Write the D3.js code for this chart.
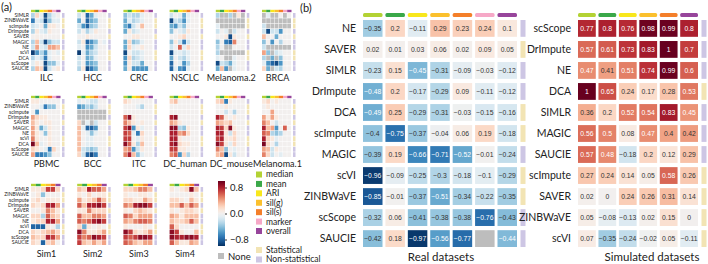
<!DOCTYPE html>
<html>
<head>
<meta charset="utf-8">
<script src="https://cdn.jsdelivr.net/npm/d3@7"></script>
<style>
  html, body { margin: 0; padding: 0; background: #fff; }
  svg { display: block; font-family: Lato, "Liberation Sans", sans-serif; }
</style>
</head>
<body>
<div id="chart"></div>
<script>
// ---- Daten ----
const methods = ["SIMLR", "ZINBWaVE", "scImpute", "DrImpute", "SAVER", "MAGIC", "NE", "scVI", "DCA", "scScope", "SAUCIE"];
const nonStat = ["SIMLR", "DrImpute", "MAGIC", "NE", "scScope", "SAUCIE"];
const realMetrics = ["median", "mean", "ARI", "sil(g)", "sil(s)", "marker", "overall"];
const simMetrics = ["median", "mean", "ARI", "sil(g)", "sil(s)", "overall"];
const metricColors = ["#b3d234", "#3aa849", "#f8e71c", "#fbc02d", "#f47f2a", "#f6a8c7", "#97459b"];
const typeLabels = ["Statistical", "Non-statistical"];
const typeColors = ["#f2e4b4", "#cdc6e4"];

// Panel (a): Zeilen = methods, Spalten = Metriken (null = None)
const ILC = [
  [-0.3, 0.2, -0.1, -0.9, -0.3, -0.1, 0], [-0.7, -0.1, -0.2, -0.9, -0.4, -0.1, -0.1],
  [-0.2, -0.1, 0, -0.5, 0.1, 0.1, 0], [-0.3, 0.1, -0.1, -0.2, 0.1, 0, 0],
  [0, 0.05, 0, 0, 0, 0, 0], [-0.3, 0.3, -0.2, -0.9, -0.4, -0.2, -0.2],
  [-0.2, 0.4, -0.1, -0.2, 0.4, 0.4, 0.3], [-0.95, -0.6, -0.3, -0.6, -0.1, 0, -0.1],
  [-0.3, -0.1, -0.2, -0.7, -0.1, 0, 0], [-0.1, 0.1, 0, -0.9, -0.4, -0.4, -0.1],
  [-0.3, 0.3, 0.2, -0.9, -0.2, 0, 0.1]];
const HCC = [
  [-0.2, 0, -0.8, -0.5, -0.1, 0, 0], [-0.5, 0, -0.8, -0.5, -0.4, 0, 0],
  [-0.2, -0.6, -0.8, -0.4, -0.3, 0, 0], [-0.2, 0, -0.3, -0.1, 0.1, 0, 0],
  [0, 0, 0.1, 0, 0, 0, 0], [-0.2, 0.1, -0.8, -0.6, -0.4, 0, -0.1],
  [-0.1, 0, -0.6, -0.5, -0.2, 0, 0], [-0.95, -0.1, -0.5, -0.3, -0.2, 0, 0],
  [-0.2, 0, -0.5, -0.4, -0.1, 0, 0], [-0.2, 0, -0.6, -0.5, -0.4, 0, 0],
  [-0.3, 0.1, -0.9, -0.7, -0.5, 0, 0]];
const CRC = [
  [-0.4, -0.2, -0.3, -0.3, -0.1, 0, 0], [-0.5, -0.1, -0.3, -0.2, -0.1, 0, 0],
  [-0.5, -0.7, -0.2, 0, 0.3, 0, 0], [-0.5, 0.1, -0.2, -0.1, 0, 0, 0],
  [0, 0, 0.1, 0.1, 0, 0, 0], [-0.5, 0.2, -0.4, -0.3, -0.1, 0, 0],
  [-0.5, 0.2, -0.1, 0, 0.1, 0, 0], [-0.9, 0, -0.2, -0.2, -0.1, 0, 0],
  [-0.6, 0.2, -0.3, -0.2, -0.1, 0, 0], [-0.6, 0.1, -0.2, -0.2, -0.5, 0, 0],
  [-0.5, 0.1, -0.6, -0.6, -0.6, -0.6, 0]];
const NSCLC = [
  [-0.2, 0, -0.1, -0.5, -0.1, 0, 0], [-0.9, -0.2, -0.3, -0.6, -0.1, 0, 0],
  [-0.5, -0.6, -0.2, -0.4, 0, 0, 0], [-0.4, 0, -0.1, -0.2, 0.1, 0, 0],
  [0, 0, 0.1, 0.2, 0, 0, 0], [-0.4, 0.1, -0.2, -0.7, -0.2, 0, 0],
  [-0.2, 0, 0.6, -0.1, 0.2, 0, 0], [-0.9, -0.1, -0.1, -0.2, -0.1, 0, 0],
  [-0.5, 0, -0.2, -0.3, -0.1, 0, 0], [-0.8, 0, -0.1, -0.6, -0.3, 0, 0],
  [-0.8, -0.1, -0.6, -0.7, -0.1, 0, 0]];
const Melanoma2 = [
  [-0.3, null, null, -0.3, null, 0.1, null], [null, null, null, null, null, null, null],
  [-0.1, null, null, null, null, null, null], [-0.2, 0, -0.1, null, -0.2, 0, 0],
  [0, 0, 0.1, -0.9, 0.1, 0, 0], [-0.4, 0, -0.7, -0.8, 0.5, 0, 0],
  [-0.3, 0, null, null, 0, 0, 0], [-0.3, null, null, null, null, null, null],
  [-0.1, 0, null, null, -0.1, 0, 0], [-0.9, -0.2, -0.3, -0.5, -0.1, 0, 0],
  [-0.5, 0.3, -0.6, null, -0.1, 0, 0]];
const BRCA = [
  [null, -0.1, null, null, 0, null, 0], [null, null, null, null, null, null, null],
  [-0.2, null, null, null, null, null, null], [-0.2, -0.9, -0.2, -0.2, -0.6, 0, 0],
  [0.3, 0, 0, -0.5, 0, 0, 0], [-0.4, 0, -0.6, 0, -0.3, 0, 0],
  [-0.2, null, null, null, null, null, null], [0.4, -0.4, null, -0.2, -0.1, 0, 0],
  [-0.3, null, -0.5, null, -0.4, 0, 0], [-0.1, -0.6, -0.8, -0.9, -0.6, 0, 0],
  [0.2, -0.5, null, -0.2, -0.3, 0, 0]];
const PBMC = [
  [0.1, 0.1, 0, 0, 0, 0, 0], [0, 0, -0.1, -0.7, -0.4, -0.4, 0],
  [0, -0.6, 0, 0, 0, 0, 0], [0.4, 0.2, 0.1, 0.1, 0, 0, 0],
  [0.3, 0.1, 0, 0.1, 0.1, 0, 0], [0.4, 0.1, -0.5, -0.2, 0.1, 0, 0],
  [0.4, 0.1, 0, -0.4, 0.1, 0, 0], [0.5, 0.1, 0, 0, 0.1, 0, 0],
  [0.95, 0.3, -0.1, 0, 0.1, 0, 0], [0.2, 0.1, 0, -0.1, -0.7, 0.2, 0],
  [0.4, -0.7, -0.7, -0.6, -0.4, 0, 0]];
const BCC = [
  [-0.1, 0, -0.1, -0.2, -0.2, 0, 0], [-0.6, -0.5, -0.3, -0.4, -0.2, 0, 0],
  [null, null, null, null, null, null, null], [null, null, null, null, null, null, null],
  [0.2, null, -0.1, null, -0.2, 0, 0], [0.3, -0.1, -0.8, -0.8, -0.6, 0, 0],
  [0.3, 0, -0.1, -0.4, -0.1, 0, 0], [0.3, 0, -0.1, -0.1, 0, 0, 0],
  [0.3, 0, -0.1, -0.1, 0, 0, 0], [0.3, -0.2, -0.3, -0.4, -0.3, 0, 0],
  [0.2, -0.2, -0.8, -0.9, -0.7, 0, 0]];
const ITC = [
  [0.2, 0.1, 0, 0, 0, 0, 0], [0, 0, 0, -0.1, -0.3, 0, 0],
  [0, 0, 0, 0, 0, 0, 0], [0.6, 0.9, 0.1, 0, 0, 0, 0],
  [0.5, 0.3, 0.1, 0, 0.1, 0, 0], [0.7, 0.9, -0.6, 0.1, -0.1, 0, 0],
  [0.7, 0.6, -0.1, -0.7, 0.2, 0, 0], [0.7, 0.7, 0, -0.1, 0.1, 0, 0],
  [0.9, 0.6, 0.1, -0.3, 0.3, 0, 0], [0.4, 0.5, -0.6, -0.2, 0.1, 0, 0],
  [0.5, 0.8, 0.3, -0.4, -0.1, 0, 0]];
const DC_human = [
  [0.2, 0.3, 0, 0, 0, 0, 0], [0, 0, 0, 0, 0, 0, 0],
  [0, 0, 0, 0, 0, 0, 0], [0.8, 0.9, 0, 0, 0, 0, 0],
  [0.4, 0.3, 0.1, 0, 0, 0, 0], [0.9, 0.9, -0.3, -0.4, 0.1, 0, 0],
  [0.8, 0.8, 0.4, 0.5, 0.2, 0, 0], [0.8, 0.8, 0.1, 0, 0, 0, 0],
  [0.8, 0.9, 0.2, 0.1, 0.1, 0, 0], [0.7, 0.7, 0.1, 0.1, 0, 0, 0],
  [0.5, 0.6, -0.6, 0.2, -0.3, 0, 0]];
const DC_mouse = [
  [0.2, 0.3, -0.7, 0.1, 0, 0, 0], [0, 0, 0.1, 0, 0, 0, 0],
  [0, 0, -0.2, 0, -0.3, 0, 0], [0.8, 0.6, 0.1, 0, 0.1, 0, 0],
  [0.4, 0.3, 0.2, 0.3, 0, 0, 0], [0.8, 0.7, 0.2, 0.9, 0.1, 0, 0],
  [0.8, 0.8, 0.1, -0.2, 0.2, 0, 0], [0.7, 0.8, 0.1, 0.1, 0.2, 0, 0],
  [0.9, 0.7, 0.1, -0.1, 0.2, 0, 0], [0.5, 0.3, -0.4, 0, -0.1, 0, 0],
  [0.3, 0.4, -0.9, 0.1, -0.2, 0, 0]];
const Melanoma1 = [
  [0.1, 0.2, 0, 0.1, 0, 0, 0], [0, 0.1, 0, 0, 0, 0, 0],
  [0, 0, 0.4, 0, 0, 0, 0], [0.4, 0.1, 0.4, 0.1, 0, 0, 0],
  [0.5, 0.3, 0, -0.2, 0, 0, 0], [0.8, 0.3, 0.4, -0.6, 0, 0.6, 0],
  [0.6, 0.5, -0.3, -0.4, -0.3, 0, 0], [0.8, 0.2, 0.1, -0.1, 0, 0, 0],
  [0.95, 0.2, 0, -0.3, 0, 0, 0], [0.4, 0.3, -0.2, 0.1, 0, 0, 0],
  [0.5, 0.2, -0.2, 0, -0.1, 0, 0]];
const Sim1 = [
  [0.1, 0.1, 0.2, 0.7, 0.7, 0.2], [0, 0.1, -0.4, 0, 0, 0],
  [0.1, 0.2, 0, 0.1, 0.1, 0.1], [0.2, 0.1, 0.2, 0.8, 0.8, 0.4],
  [0, 0, 0.1, 0.5, 0.3, 0.1], [0.2, 0.2, -0.3, 0.6, 0.3, 0.2],
  [0.1, 0.2, 0.2, 0.8, 0.8, 0.4], [-0.8, -0.8, -0.8, 0.1, 0, -0.3],
  [0.2, 0.1, 0.2, 0.3, 0.4, 0.2], [0.3, 0.2, 0.2, 0.8, 0.7, 0.4],
  [0.2, 0.1, -0.8, 0.2, 0.3, 0]];
const Sim2 = [
  [0.3, 0.2, 0.8, 0.6, 0.6, 0.4], [0.1, 0, 0.2, 0, 0.1, 0.1],
  [0.4, 0.1, 0.2, 0.3, 0.6, 0.3], [0.6, 0.3, 0.8, 0.8, 0.9, 0.7],
  [0.1, 0.1, 0.5, 0.2, 0.2, 0.2], [0.6, 0.3, 0.3, 0.5, 0.5, 0.4],
  [0.6, 0.5, 0.6, 0.8, 0.9, 0.7], [0.2, -0.5, 0.1, 0, 0.1, 0],
  [0.9, 0.5, 0.1, 0.1, 0.2, 0.4], [0.7, 0.5, 0.6, 0.9, 0.8, 0.7],
  [0.7, 0.3, 0.2, 0.4, 0.2, 0.4]];
const Sim3 = [
  [0.2, 0.2, 0.3, 0.5, 0.5, 0.3], [0.1, 0, 0, 0.1, 0.1, 0],
  [0.2, 0.2, 0.1, 0.1, 0.4, 0.2], [0.5, 0.4, 0.8, 0.9, 0.9, 0.7],
  [0.1, 0, 0.2, 0.3, 0.2, 0.1], [0.6, 0.5, 0.2, 0.4, 0.4, 0.4],
  [0.4, 0.3, 0.5, 0.6, 0.6, 0.5], [0.1, 0, 0, 0, 0.1, 0],
  [0.9, 0.7, 0.2, 0.1, 0.2, 0.4], [0.7, 0.6, 0.7, 0.9, 0.9, 0.8],
  [0.6, 0.5, 0.3, 0.2, 0.4, 0.4]];
const Sim4 = [
  [0.1, 0, 0.1, 0.2, 0.9, 0.3], [0, 0, 0, 0, 0.1, 0],
  [0.2, 0.2, 0.1, 0, 0.3, 0.1], [0.3, 0.3, 0.6, 0.3, 0.6, 0.4],
  [0.1, 0, 0.1, 0.2, 0.2, 0.1], [0.4, 0.3, 0.1, 0.3, 0.3, 0.3],
  [0.3, 0.2, 0.2, 0.3, 0.6, 0.3], [0.6, 0.2, 0, 0, 0, 0],
  [0.9, 0.7, 0.1, 0, 0, 0.3], [0.9, 0.8, 0.8, 0.9, 0.9, 0.8],
  [0.6, 0.3, 0.1, 0.1, 0.4, 0.3]];

const smallPanels = [
  { name: "ILC", data: ILC }, { name: "HCC", data: HCC }, { name: "CRC", data: CRC },
  { name: "NSCLC", data: NSCLC }, { name: "Melanoma.2", data: Melanoma2 }, { name: "BRCA", data: BRCA },
  { name: "PBMC", data: PBMC }, { name: "BCC", data: BCC }, { name: "ITC", data: ITC },
  { name: "DC_human", data: DC_human }, { name: "DC_mouse", data: DC_mouse }, { name: "Melanoma.1", data: Melanoma1 },
  { name: "Sim1", data: Sim1, sim: true }, { name: "Sim2", data: Sim2, sim: true },
  { name: "Sim3", data: Sim3, sim: true }, { name: "Sim4", data: Sim4, sim: true }
];

// Panel (b)
const realMethods = ["NE", "SAVER", "SIMLR", "DrImpute", "DCA", "scImpute", "MAGIC", "scVI", "ZINBWaVE", "scScope", "SAUCIE"];
const realValues = [
  [-0.35, 0.2, -0.11, 0.29, 0.23, 0.24, 0.1],
  [0.02, 0.01, 0.03, 0.06, 0.02, 0.09, 0.05],
  [-0.23, 0.15, -0.45, -0.31, -0.09, -0.03, -0.12],
  [-0.48, 0.2, -0.17, -0.29, 0.09, -0.11, -0.12],
  [-0.49, 0.25, -0.29, -0.31, -0.03, -0.15, -0.16],
  [-0.40, -0.75, -0.37, -0.04, 0.06, 0.19, -0.18],
  [-0.39, 0.19, -0.66, -0.71, -0.52, -0.01, -0.24],
  [-0.96, -0.09, -0.25, -0.3, -0.18, -0.1, -0.29],
  [-0.85, -0.01, -0.37, -0.51, -0.34, -0.22, -0.35],
  [-0.32, 0.06, -0.41, -0.38, -0.38, -0.76, -0.43],
  [-0.42, 0.18, -0.97, -0.56, -0.77, null, -0.44]
];
const simMethods = ["scScope", "DrImpute", "NE", "DCA", "SIMLR", "MAGIC", "SAUCIE", "scImpute", "SAVER", "ZINBWaVE", "scVI"];
const simValues = [
  [0.77, 0.8, 0.76, 0.98, 0.99, 0.8],
  [0.57, 0.61, 0.73, 0.83, 1, 0.7],
  [0.47, 0.41, 0.51, 0.74, 0.99, 0.6],
  [1, 0.65, 0.24, 0.17, 0.28, 0.53],
  [0.36, 0.2, 0.52, 0.54, 0.83, 0.45],
  [0.56, 0.5, 0.08, 0.47, 0.4, 0.42],
  [0.57, 0.48, -0.18, 0.2, 0.12, 0.29],
  [0.27, 0.24, 0.14, 0.05, 0.58, 0.26],
  [0.02, 0, 0.24, 0.26, 0.31, 0.14],
  [0.05, -0.08, -0.13, 0.02, 0.15, 0],
  [0.07, -0.35, -0.24, -0.02, 0.05, -0.11]
];
const colorTicks = [0.8, 0.0, -0.8];

// ---- Zeichnen ----
const W = 708, H = 264;
const svg = d3.select("#chart").append("svg").attr("width", W).attr("height", H);

const color = d3.scaleDiverging(t => d3.interpolateRdBu(1 - t)).domain([-1, 0, 1]);
const noneColor = "#bdbdbd";
const fill = v => (v === null ? noneColor : color(v));
const typeColor = m => typeColors[nonStat.includes(m) ? 1 : 0];
const metricColor = m => metricColors[realMetrics.indexOf(m)];
const ink = "#222";

svg.append("text").attr("x", 1).attr("y", 11).style("font-size", "11px").style("fill", ink).text("(a)");
svg.append("text").attr("x", 300).attr("y", 12).style("font-size", "11px").style("fill", ink).text("(b)");

// Panel (a) – kleine Heatmaps
const panelX = d3.scaleLinear().domain([0, 5]).range([31, 262]);
const panelRows = [{ top: 13, label: 81 }, { top: 99, label: 167 }, { top: 187, label: 257 }];
const smallW = 29, smallH = 58;

smallPanels.forEach((p, i) => {
  const col = i % 6, row = Math.floor(i / 6);
  const x0 = panelX(col), y0 = panelRows[row].top;
  const metrics = p.sim ? simMetrics : realMetrics;
  const x = d3.scaleBand().domain(metrics).range([x0, x0 + smallW]).paddingInner(0.1);
  const y = d3.scaleBand().domain(methods).range([y0, y0 + smallH]).paddingInner(0.1);
  const g = svg.append("g");

  // Kopfleiste
  g.selectAll(".hdr").data(metrics).join("rect")
    .attr("x", d => x(d)).attr("y", y0 - 3.2)
    .attr("width", x.bandwidth() + 0.5).attr("height", 2.4)
    .attr("fill", d => metricColor(d));

  p.data.forEach((vals, r) => {
    g.selectAll(null).data(vals).join("rect")
      .attr("x", (d, c) => x(metrics[c])).attr("y", y(methods[r]))
      .attr("width", x.bandwidth()).attr("height", y.bandwidth())
      .attr("fill", d => fill(d));
  });

  // Typ-Leiste
  g.selectAll(".typ").data(methods).join("rect")
    .attr("x", x0 + smallW + 2).attr("y", d => y(d))
    .attr("width", 2.5).attr("height", y.bandwidth())
    .attr("fill", d => typeColor(d));

  if (col === 0) {
    g.selectAll(".lbl").data(methods).join("text")
      .attr("x", x0 - 2).attr("y", d => y(d) + y.bandwidth() / 2)
      .attr("dy", "0.35em").attr("text-anchor", "end")
      .style("font-size", "5px").style("fill", ink)
      .text(d => d);
  }

  g.append("text")
    .attr("x", x0 + smallW / 2 + 1).attr("y", panelRows[row].label)
    .attr("text-anchor", "middle").style("font-size", "9px").style("fill", ink)
    .text(p.name);
});

// Farbskala
const defs = svg.append("defs");
const grad = defs.append("linearGradient").attr("id", "cbar")
  .attr("x1", 0).attr("x2", 0).attr("y1", 1).attr("y2", 0);
d3.range(0, 1.0001, 0.05).forEach(t => {
  grad.append("stop").attr("offset", t).attr("stop-color", color(-1 + 2 * t));
});
const cbY = d3.scaleLinear().domain([-1, 1]).range([246, 181]);
svg.append("rect").attr("x", 218).attr("y", 181).attr("width", 7).attr("height", 65)
  .attr("fill", "url(#cbar)");
const cbAxis = svg.append("g").attr("transform", "translate(225,0)")
  .call(d3.axisRight(cbY).tickValues(colorTicks).tickSize(2).tickFormat(d3.format(".1f")));
cbAxis.select(".domain").remove();
cbAxis.selectAll(".tick line").attr("stroke", "#333");
cbAxis.selectAll(".tick text").attr("x", 5)
  .style("font-size", "9.5px").style("font-family", "Lato, sans-serif").style("fill", ink);

svg.append("rect").attr("x", 218).attr("y", 253).attr("width", 6).attr("height", 6).attr("fill", noneColor);
svg.append("text").attr("x", 228).attr("y", 259.5).style("font-size", "9.5px").style("fill", ink).text("None");

// Legende
const legItems = realMetrics.map((m, i) => ({ label: m, color: metricColors[i] }));
const legY = d3.scalePoint().domain(realMetrics).range([174.5, 231]);
svg.selectAll(".legm").data(legItems).join("rect")
  .attr("x", 256).attr("y", d => legY(d.label) - 3).attr("width", 6).attr("height", 6)
  .attr("fill", d => d.color);
svg.selectAll(".legt").data(legItems).join("text")
  .attr("x", 266).attr("y", d => legY(d.label)).attr("dy", "0.35em")
  .style("font-size", "8.5px").style("fill", ink).text(d => d.label);
const typeY = d3.scalePoint().domain(typeLabels).range([250, 259.5]);
svg.selectAll(".legs").data(typeLabels).join("rect")
  .attr("x", 256).attr("y", d => typeY(d) - 3).attr("width", 6).attr("height", 6)
  .attr("fill", (d, i) => typeColors[i]);
svg.selectAll(".legst").data(typeLabels).join("text")
  .attr("x", 266).attr("y", d => typeY(d)).attr("dy", "0.35em")
  .style("font-size", "8.5px").style("fill", ink).text(d => d);

// Panel (b) – große Heatmaps
function bigHeatmap({ methodsList, values, metrics, x0, x1, title, titleX }) {
  const x = d3.scaleBand().domain(metrics).range([x0, x1]).paddingInner(0.13);
  const y = d3.scaleBand().domain(methodsList).range([20, 247]).paddingInner(0.2);
  const g = svg.append("g");

  g.selectAll(".hdr").data(metrics).join("rect")
    .attr("x", d => x(d)).attr("y", 13).attr("width", x.bandwidth()).attr("height", 4)
    .attr("rx", 1.5).attr("fill", d => metricColor(d));

  methodsList.forEach((m, r) => {
    const cells = values[r].map((v, c) => ({ v, m: metrics[c] }));
    g.selectAll(null).data(cells).join("rect")
      .attr("x", d => x(d.m)).attr("y", y(m))
      .attr("width", x.bandwidth()).attr("height", y.bandwidth())
      .attr("fill", d => fill(d.v));
    g.selectAll(null).data(cells.filter(d => d.v !== null)).join("text")
      .attr("x", d => x(d.m) + x.bandwidth() / 2).attr("y", y(m) + y.bandwidth() / 2)
      .attr("dy", "0.35em").attr("text-anchor", "middle")
      .style("font-family", "Liberation Sans, Arial, sans-serif").style("font-size", "6.8px")
      .style("fill", d => Math.abs(d.v) >= 0.44 ? "#fff" : "#333")
      .text(d => d3.format("~r")(d.v));
  });

  g.selectAll(".typ").data(methodsList).join("rect")
    .attr("x", x1 + 3.5).attr("y", d => y(d)).attr("width", 5).attr("height", y.bandwidth())
    .attr("fill", d => typeColor(d));

  g.selectAll(".lbl").data(methodsList).join("text")
    .attr("x", x0 - 7).attr("y", d => y(d) + y.bandwidth() / 2).attr("dy", "0.35em")
    .attr("text-anchor", "end").style("font-size", "10.5px").style("fill", ink)
    .text(d => d);

  g.append("text").attr("x", titleX).attr("y", 261).attr("text-anchor", "middle")
    .style("font-size", "11.5px").style("fill", ink).text(title);
}

bigHeatmap({ methodsList: realMethods, values: realValues, metrics: realMetrics,
  x0: 363, x1: 517, title: "Real datasets", titleX: 441 });
bigHeatmap({ methodsList: simMethods, values: simValues, metrics: simMetrics,
  x0: 578, x1: 698, title: "Simulated datasets", titleX: 652 });
</script>
</body>
</html>
